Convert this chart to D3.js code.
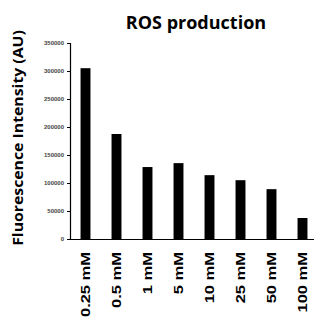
<!DOCTYPE html>
<html>
<head>
<meta charset="utf-8">
<script src="https://cdn.jsdelivr.net/npm/d3@7"></script>
<style>
  body { margin: 0; background: #fff; }
  svg { display: block; font-family: "Open Sans", sans-serif; }
</style>
</head>
<body>
<svg></svg>
<script>
const width = 314;
const height = 321;

const categories = ["0.25 mM", "0.5 mM", "1 mM", "5 mM", "10 mM", "25 mM", "50 mM", "100 mM"];
const values = [305000, 187500, 128500, 135500, 114000, 105000, 89000, 37500];
const yTicks = [0, 50000, 100000, 150000, 200000, 250000, 300000, 350000];

const margin = { top: 43, right: -4, bottom: 82, left: 70 };

const svg = d3.select("svg").attr("width", width).attr("height", height);

const x = d3
  .scaleBand()
  .domain(categories)
  .range([margin.left, width - margin.right])
  .paddingInner(0.68)
  .paddingOuter(0.34);

const y = d3
  .scaleLinear()
  .domain([0, 350000])
  .range([height - margin.bottom, margin.top]);

// bars
svg
  .append("g")
  .selectAll("rect")
  .data(values)
  .enter()
  .append("rect")
  .attr("x", (d, i) => x(categories[i]))
  .attr("width", x.bandwidth())
  .attr("y", (d) => y(d))
  .attr("height", (d) => y(0) - y(d))
  .attr("fill", "#000");

// y axis
const yAxis = svg
  .append("g")
  .attr("transform", `translate(${margin.left},0)`)
  .call(d3.axisLeft(y).tickValues(yTicks).tickSize(3).tickPadding(3).tickFormat(d3.format("d")));
yAxis.select(".domain").attr("stroke", "#000").attr("stroke-width", 1.2);
yAxis.selectAll("line").attr("stroke", "#000");
yAxis.selectAll("text").attr("font-size", 6).attr("font-weight", "bold").attr("fill", "#444");

// x axis, labels are tall and narrow in the original
const xAxis = svg
  .append("g")
  .attr("transform", `translate(0,${y(0)})`)
  .call(d3.axisBottom(x).tickSize(0));
xAxis.select(".domain").attr("stroke", "#000").attr("stroke-width", 1.2);
xAxis
  .selectAll("text")
  .attr("font-size", 16.5)
  .attr("font-weight", "bold")
  .attr("fill", "#000")
  .attr("text-anchor", "end")
  .attr("transform", "rotate(-90) scale(1,0.76)")
  .attr("x", -13)
  .attr("y", 0)
  .attr("dy", "0.35em");

// title
svg
  .append("text")
  .attr("x", 196)
  .attr("y", 29)
  .attr("text-anchor", "middle")
  .attr("font-size", 18)
  .attr("font-weight", "bold")
  .text("ROS production");

// y label
svg
  .append("text")
  .attr("transform", "translate(23,138) rotate(-90) scale(1,0.88)")
  .attr("text-anchor", "middle")
  .attr("font-size", 15.8)
  .attr("font-weight", "bold")
  .text("Fluorescence Intensity (AU)");
</script>
</body>
</html>
